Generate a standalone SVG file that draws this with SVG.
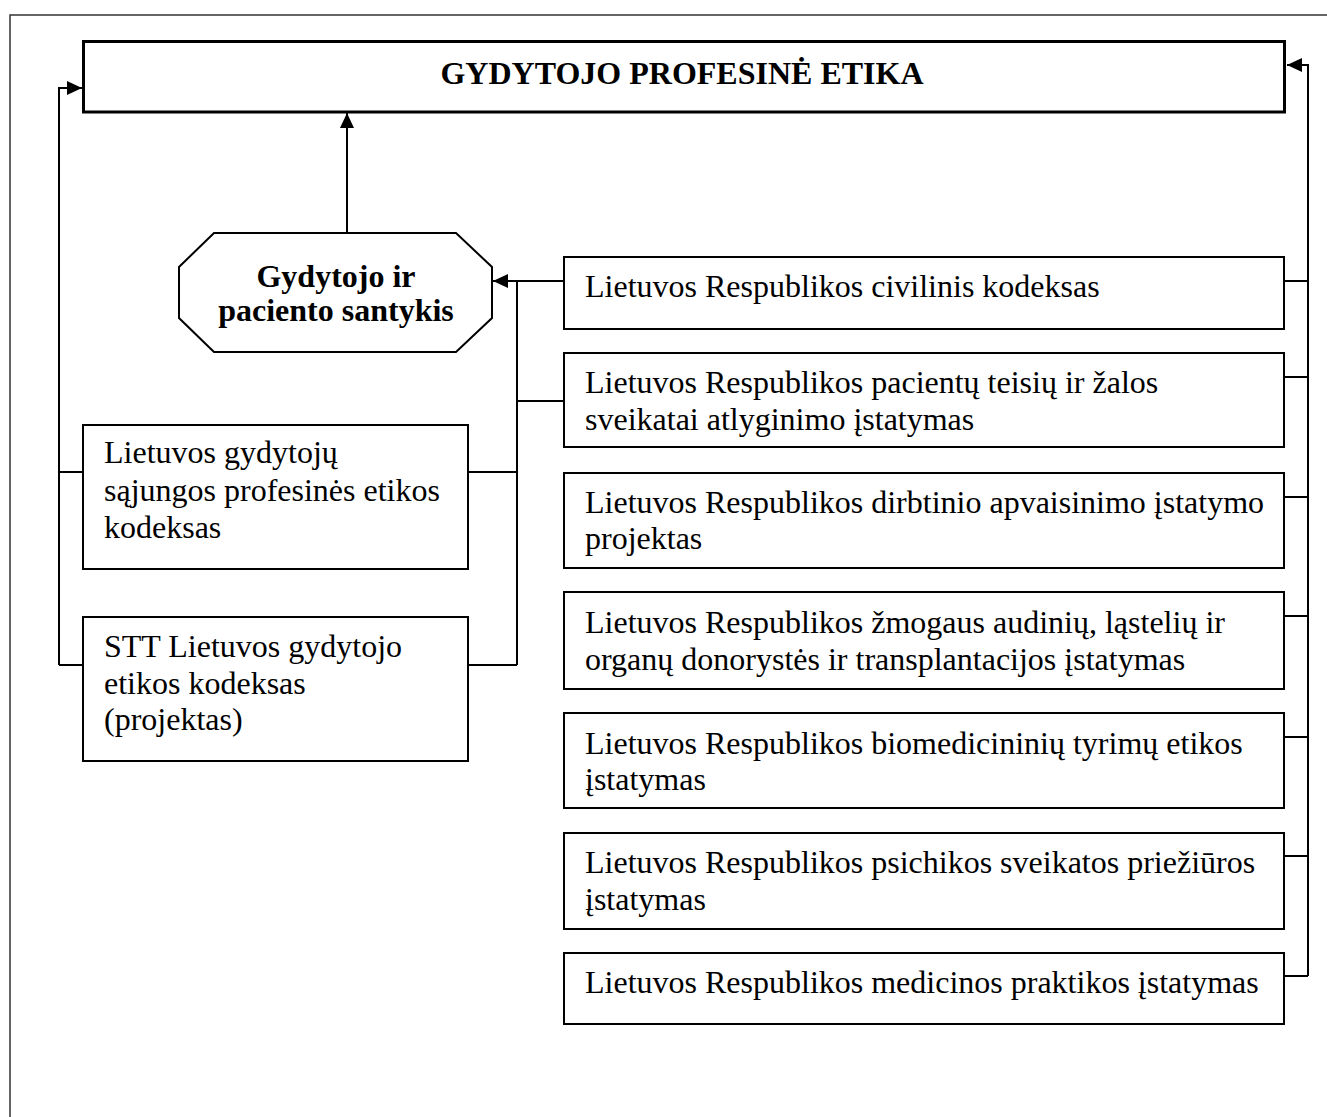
<svg xmlns="http://www.w3.org/2000/svg" width="1327" height="1117" viewBox="0 0 1327 1117">
  <style>
    .frame { fill: none; stroke: #333; stroke-width: 1.5; }
    .box { fill: #fff; stroke: #000; stroke-width: 2; }
    .title-box { fill: #fff; stroke: #000; stroke-width: 3; }
    .wire { fill: none; stroke: #000; stroke-width: 2; }
    .txt { font-family: "Liberation Serif", "Times New Roman", serif; font-size: 32px; fill: #000; }
    .bold { font-weight: bold; }
  </style>
  <defs>
    <marker id="arrow" markerUnits="userSpaceOnUse" markerWidth="16" markerHeight="16" refX="15" refY="7" orient="auto">
      <path d="M0 0 L15 7 L0 14 Z" fill="#000"/>
    </marker>
  </defs>

  <!-- outer frame: top and left edges -->
  <path class="frame" d="M10 1117 V15 H1327"/>

  <!-- connectors -->
  <g id="connectors">
    <!-- relationship node up to title -->
    <path class="wire" d="M347 233 V113" marker-end="url(#arrow)"/>
    <!-- left bus up to title -->
    <path class="wire" d="M59 665 V88 H82" marker-end="url(#arrow)"/>
    <path class="wire" d="M59 472 H83"/>
    <path class="wire" d="M59 665 H83"/>
    <!-- right bus up to title -->
    <path class="wire" d="M1308 976 V65 H1287" marker-end="url(#arrow)"/>
    <path class="wire" d="M1284 281 H1308"/>
    <path class="wire" d="M1284 377 H1308"/>
    <path class="wire" d="M1284 497 H1308"/>
    <path class="wire" d="M1284 616 H1308"/>
    <path class="wire" d="M1284 737 H1308"/>
    <path class="wire" d="M1284 856 H1308"/>
    <path class="wire" d="M1284 976 H1308"/>
    <!-- middle bus into relationship node -->
    <path class="wire" d="M564 281 H493" marker-end="url(#arrow)"/>
    <path class="wire" d="M517 281 V665"/>
    <path class="wire" d="M517 401 H564"/>
    <path class="wire" d="M468 472 H517"/>
    <path class="wire" d="M468 665 H517"/>
  </g>

  <!-- title -->
  <g id="title">
    <rect class="title-box" x="83.5" y="41.5" width="1201" height="70.5"/>
    <text class="txt bold" x="682" y="84" text-anchor="middle">GYDYTOJO PROFESINĖ ETIKA</text>
  </g>

  <!-- doctor-patient relationship -->
  <g id="relationship">
    <polygon class="box" points="214,233 456,233 492,267 492,318 456,352 214,352 179,318 179,267"/>
    <text class="txt bold" x="336" y="287" text-anchor="middle">Gydytojo ir</text>
    <text class="txt bold" x="336" y="321" text-anchor="middle">paciento santykis</text>
  </g>

  <!-- left column: ethics codes -->
  <g id="code-lgs">
    <rect class="box" x="83" y="425" width="385" height="144"/>
    <text class="txt" x="104" y="463">Lietuvos gydytojų</text>
    <text class="txt" x="104" y="501">sąjungos profesinės etikos</text>
    <text class="txt" x="104" y="538">kodeksas</text>
  </g>
  <g id="code-stt">
    <rect class="box" x="83" y="617" width="385" height="144"/>
    <text class="txt" x="104" y="657">STT Lietuvos gydytojo</text>
    <text class="txt" x="104" y="694">etikos kodeksas</text>
    <text class="txt" x="104" y="730">(projektas)</text>
  </g>

  <!-- right column: laws -->
  <g id="law-civil">
    <rect class="box" x="564" y="257" width="720" height="72"/>
    <text class="txt" x="585" y="297">Lietuvos Respublikos civilinis kodeksas</text>
  </g>
  <g id="law-patients">
    <rect class="box" x="564" y="353" width="720" height="94"/>
    <text class="txt" x="585" y="393">Lietuvos Respublikos pacientų teisių ir žalos</text>
    <text class="txt" x="585" y="430">sveikatai atlyginimo įstatymas</text>
  </g>
  <g id="law-ivf">
    <rect class="box" x="564" y="473" width="720" height="95"/>
    <text class="txt" x="585" y="513">Lietuvos Respublikos dirbtinio apvaisinimo įstatymo</text>
    <text class="txt" x="585" y="549">projektas</text>
  </g>
  <g id="law-transplant">
    <rect class="box" x="564" y="592" width="720" height="97"/>
    <text class="txt" x="585" y="633">Lietuvos Respublikos žmogaus audinių, ląstelių ir</text>
    <text class="txt" x="585" y="670">organų donorystės ir transplantacijos įstatymas</text>
  </g>
  <g id="law-biomed">
    <rect class="box" x="564" y="713" width="720" height="95"/>
    <text class="txt" x="585" y="754">Lietuvos Respublikos biomedicininių tyrimų etikos</text>
    <text class="txt" x="585" y="790">įstatymas</text>
  </g>
  <g id="law-mental">
    <rect class="box" x="564" y="833" width="720" height="96"/>
    <text class="txt" x="585" y="873">Lietuvos Respublikos psichikos sveikatos priežiūros</text>
    <text class="txt" x="585" y="910">įstatymas</text>
  </g>
  <g id="law-practice">
    <rect class="box" x="564" y="953" width="720" height="71"/>
    <text class="txt" x="585" y="993">Lietuvos Respublikos medicinos praktikos įstatymas</text>
  </g>
</svg>
